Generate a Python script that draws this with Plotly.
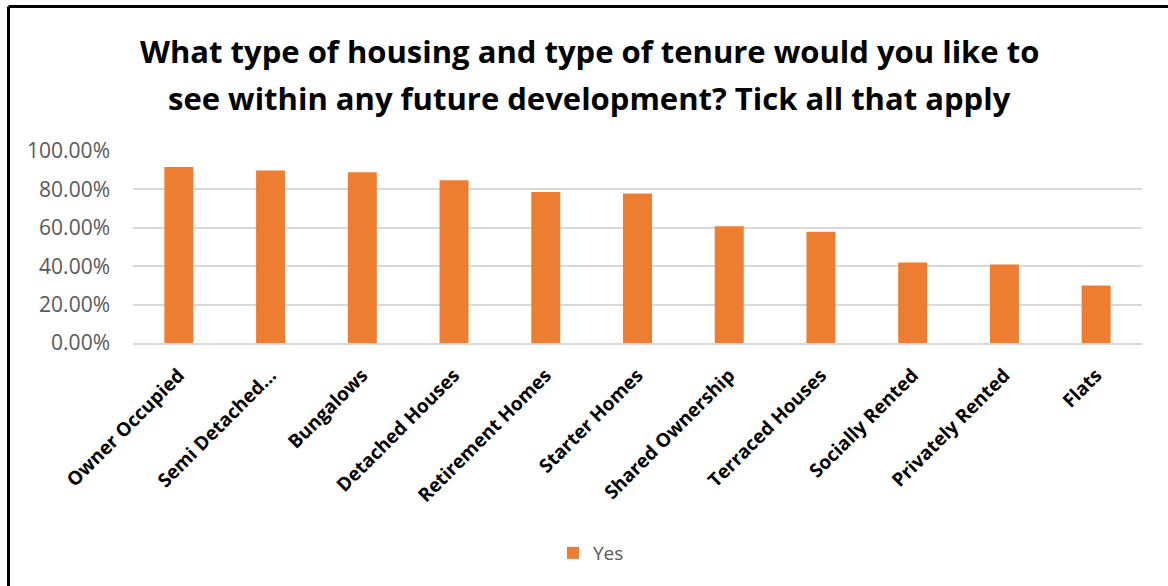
import plotly.graph_objects as go

# Survey answers (share of respondents ticking "Yes")
categories = [
    "Owner Occupied",
    "Semi Detached...",
    "Bungalows",
    "Detached Houses",
    "Retirement Homes",
    "Starter Homes",
    "Shared Ownership",
    "Terraced Houses",
    "Socially Rented",
    "Privately Rented",
    "Flats",
]
yes_share = [0.917, 0.899, 0.889, 0.848, 0.787, 0.778, 0.608, 0.579, 0.419, 0.409, 0.300]
y_ticks = [0, 0.2, 0.4, 0.6, 0.8, 1.0]
title_lines = [
    "What type of housing and type of tenure would you like to",
    "see within any future development? Tick all that apply",
]

W, H = 1168, 586
L, R, T, B = 133, 26, 151, 243
pw, ph = W - L - R, H - T - B


def px_x(p):
    return (p - L) / pw


def px_y(p):
    return (H - B - p) / ph


fig = go.Figure()
fig.add_trace(
    go.Bar(
        x=categories,
        y=yes_share,
        name="Yes",
        marker=dict(color="#ED7D31", line=dict(width=0)),
    )
)

# title as two annotations so the line spacing can match
title_font = dict(family="Open Sans", size=31, color="black", weight="bold")
annotations = [
    dict(text=title_lines[0], xref="paper", yref="paper", x=px_x(589), y=px_y(61),
         xanchor="center", yanchor="bottom", showarrow=False, font=title_font, yshift=-13),
    dict(text=title_lines[1], xref="paper", yref="paper", x=px_x(589), y=px_y(108),
         xanchor="center", yanchor="bottom", showarrow=False, font=title_font, yshift=-13),
]

fig.update_layout(
    width=W,
    height=H,
    margin=dict(l=L, r=R, t=T, b=B),
    paper_bgcolor="white",
    plot_bgcolor="white",
    bargap=0.684,
    annotations=annotations,
    showlegend=True,
    legend=dict(
        orientation="h",
        x=px_x(591),
        xanchor="center",
        y=px_y(553),
        yanchor="middle",
        font=dict(family="Open Sans", size=19, color="#595959"),
    ),
    shapes=[
        dict(type="line", xref="paper", yref="paper",
             x0=px_x(8.5), x1=px_x(1175), y0=px_y(6.5), y1=px_y(6.5),
             line=dict(color="black", width=3)),
        dict(type="line", xref="paper", yref="paper",
             x0=px_x(8.5), x1=px_x(8.5), y0=px_y(6.5), y1=px_y(595),
             line=dict(color="black", width=3)),
    ],
)

fig.update_yaxes(
    range=[0, 1.0],
    tickvals=y_ticks,
    tickformat=".2%",
    showgrid=True,
    gridcolor="#D9D9D9",
    gridwidth=1.5,
    zeroline=False,
    showline=False,
    ticklabelstandoff=22,
    tickfont=dict(family="Open Sans", size=21, color="#595959"),
)
fig.update_xaxes(
    tickangle=-45,
    showline=True,
    linecolor="#D9D9D9",
    linewidth=1.5,
    ticks="",
    ticklabelstandoff=12,
    tickfont=dict(family="Open Sans", size=19, color="black", weight="bold"),
)

fig.write_html(
    "out.html",
    config={"displayModeBar": False},
    post_script="document.body.style.margin='0';",
)
